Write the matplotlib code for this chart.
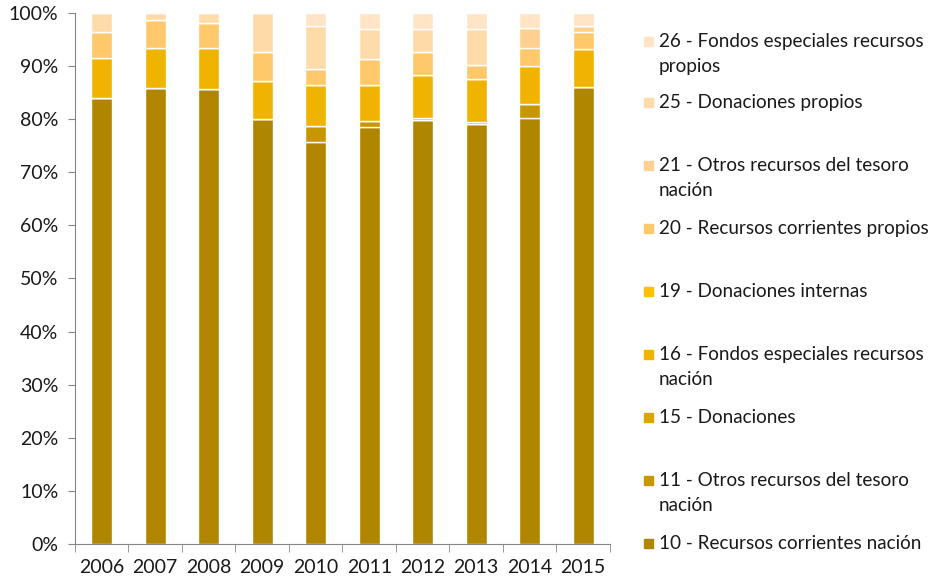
import matplotlib.pyplot as plt
from matplotlib.patches import Rectangle
import numpy as np

years = ['2006', '2007', '2008', '2009', '2010', '2011', '2012', '2013', '2014', '2015']

# shares (%) per funding source
s10 = [83.9, 85.8, 85.6, 80.0, 75.8, 78.5, 79.8, 79.1, 80.3, 86.0]
s11 = [0.0, 0.0, 0.0, 0.0, 2.9, 1.2, 0.0, 0.0, 2.6, 0.0]
s15 = [0.0, 0.0, 0.0, 0.0, 0.0, 0.0, 0.4, 0.3, 0.0, 0.0]
s16 = [7.7, 7.6, 7.8, 7.2, 7.7, 6.7, 8.1, 8.1, 7.1, 7.2]
s19 = [0.0, 0.0, 0.0, 0.0, 0.0, 0.0, 0.0, 0.0, 0.0, 0.0]
s20 = [4.8, 5.3, 4.8, 5.4, 3.0, 4.9, 4.3, 2.8, 3.5, 3.2]
s21 = [0.0, 0.0, 0.0, 0.0, 0.0, 0.0, 0.0, 0.0, 3.6, 1.1]
s25 = [3.6, 1.3, 1.8, 7.4, 8.2, 5.6, 4.3, 6.6, 0.0, 0.0]
s26 = [0.0, 0.0, 0.0, 0.0, 2.4, 3.1, 3.1, 3.1, 2.9, 2.5]

labels = [
    '10 - Recursos corrientes nación',
    '11 - Otros recursos del tesoro\nnación',
    '15 - Donaciones',
    '16 - Fondos especiales recursos\nnación',
    '19 - Donaciones internas',
    '20 - Recursos corrientes propios',
    '21 - Otros recursos del tesoro\nnación',
    '25 - Donaciones propios',
    '26 - Fondos especiales recursos\npropios',
]
series = [s10, s11, s15, s16, s19, s20, s21, s25, s26]
colors = ['#B08500', '#C89600', '#DCA500', '#F0B400', '#FFC000',
          '#FFC86A', '#FFD08F', '#FFDBAA', '#FFE5C6']

plt.rcParams['font.family'] = ['Lato', 'DejaVu Sans']
axis_col = '#868686'
txt_col = '#1a1a1a'

fig = plt.figure(figsize=(9.35, 5.83), dpi=100)
ax = fig.add_axes([0.0802, 0.0669, 0.5722, 0.9108])

x = np.arange(len(years))
bottom = np.zeros(len(years))
for vals, col in zip(series, colors):
    v = np.array(vals) / 100.0
    ax.bar(x, v, width=0.39, bottom=bottom, color=col,
           edgecolor='white', linewidth=1.0)
    bottom += v

ax.set_xlim(-0.5, len(years) - 0.5)
ax.set_ylim(0, 1)
ax.set_yticks(np.arange(0, 1.01, 0.1))
ax.set_yticklabels([f'{int(round(t * 100))}%' for t in np.arange(0, 1.01, 0.1)])
ax.set_xticks(x)
ax.set_xticklabels(years)
ax.set_xticks(np.arange(-0.5, len(years), 1.0), minor=True)
ax.tick_params(axis='x', which='major', length=0, pad=11, labelsize=14, labelcolor=txt_col)
ax.tick_params(axis='x', which='minor', length=6, color=axis_col, direction='out')
ax.tick_params(axis='y', length=5, color=axis_col, direction='out', labelsize=14,
               pad=7, labelcolor=txt_col)

for side in ['top', 'right']:
    ax.spines[side].set_visible(False)
for side in ['left', 'bottom']:
    ax.spines[side].set_color(axis_col)

# legend, laid out like the original (top entry = last series)
W, H = 935, 583
slot_y = [544, 481, 418, 355, 292, 229, 166, 103, 42]
for lab, col, yy in zip(labels, colors, slot_y):
    fig.patches.append(Rectangle((644 / W, 1 - (yy + 4) / H), 9 / W, 9 / H,
                                 transform=fig.transFigure, color=col))
    fig.text(659 / W, 1 - (yy - 9) / H, lab, fontsize=13.6, va='top',
             ha='left', color=txt_col, linespacing=1.6)

fig.savefig('out.png', dpi=100)
